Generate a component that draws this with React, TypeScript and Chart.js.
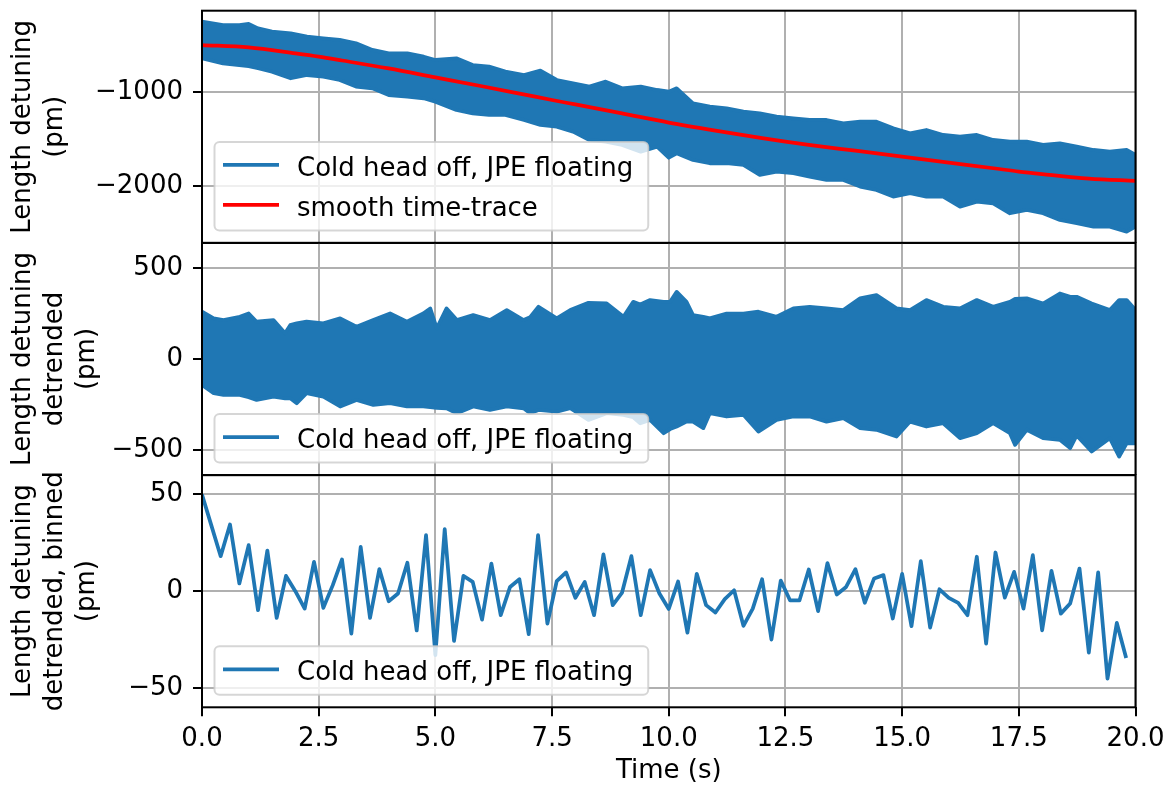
import React, { useEffect, useRef } from "react";
import { Chart, registerables } from "chart.js";

Chart.register(...registerables);

// ---------------- data ----------------
const X_TICKS = [0, 2.5, 5, 7.5, 10, 12.5, 15, 17.5, 20];
const Y1_TICKS = [-2000, -1000];
const Y2_TICKS = [-500, 0, 500];
const Y3_TICKS = [-50, 0, 50];

const SERIES_LABEL = "Cold head off, JPE floating";
const SMOOTH_LABEL = "smooth time-trace";

// panel 1: raw trace, read as upper / lower envelope of the noise band
const RAW_TIME = [0, 0.45, 0.8, 1.0, 1.2, 1.5, 1.9, 2.25, 2.6, 2.95, 3.3, 3.65, 4.0, 4.4, 4.75, 5.0, 5.45, 5.8, 6.15, 6.5, 6.9, 7.25, 7.6, 7.95, 8.3, 8.65, 9.0, 9.4, 9.75, 10.0, 10.17, 10.35, 10.52, 10.88, 11.24, 11.6, 11.95, 12.31, 12.67, 13.02, 13.38, 13.74, 14.1, 14.45, 14.81, 15.17, 15.52, 15.88, 16.24, 16.6, 16.95, 17.31, 17.67, 18.02, 18.38, 18.74, 19.1, 19.45, 19.81, 20.0];
const RAW_UPPER = [-244, -280, -280, -269, -316, -351, -369, -405, -422, -440, -476, -547, -583, -583, -619, -654, -636, -708, -725, -779, -815, -768, -868, -904, -939, -886, -957, -939, -975, -993, -957, -1040, -1118, -1153, -1171, -1207, -1225, -1260, -1278, -1296, -1296, -1332, -1314, -1314, -1385, -1438, -1403, -1456, -1474, -1456, -1510, -1528, -1528, -1563, -1545, -1581, -1617, -1635, -1617, -1670];
const RAW_LOWER = [-636, -690, -708, -720, -743, -779, -850, -815, -832, -868, -939, -957, -1029, -1046, -1064, -1100, -1189, -1225, -1242, -1242, -1296, -1349, -1367, -1421, -1510, -1528, -1563, -1635, -1581, -1700, -1652, -1690, -1724, -1759, -1759, -1777, -1884, -1848, -1866, -1902, -1938, -1938, -2009, -2045, -2116, -2080, -2116, -2116, -2223, -2169, -2187, -2294, -2258, -2294, -2365, -2401, -2437, -2437, -2490, -2437];

const SMOOTH_TIME = [0, 1, 2, 2.5, 3, 4, 5, 6, 7, 7.5, 8, 9, 10, 11, 12, 12.5, 13, 14, 15, 16, 17, 17.5, 18, 19, 20];
const SMOOTH_VALUES = [-494, -520, -584, -619, -660, -745, -840, -935, -1033, -1082, -1130, -1226, -1324, -1410, -1490, -1528, -1562, -1625, -1688, -1752, -1815, -1848, -1875, -1923, -1948];

// panel 2: detrended trace, upper / lower envelope
const DETR_TIME = [0, 0.25, 0.46, 0.81, 1.0, 1.17, 1.53, 1.78, 1.89, 2.03, 2.24, 2.6, 2.96, 3.31, 3.67, 4.03, 4.39, 4.74, 4.89, 5.03, 5.24, 5.46, 5.81, 6.17, 6.53, 6.89, 7.03, 7.21, 7.6, 7.89, 8.28, 8.67, 9.03, 9.24, 9.39, 9.6, 9.89, 10.03, 10.17, 10.38, 10.52, 10.74, 10.88, 11.24, 11.6, 11.92, 12.31, 12.67, 13.02, 13.38, 13.74, 14.1, 14.45, 14.88, 15.17, 15.52, 15.88, 16.24, 16.6, 16.95, 17.31, 17.42, 17.67, 18.02, 18.38, 18.6, 18.74, 19.06, 19.45, 19.65, 19.81, 20.0];
const DETR_UPPER = [260, 223, 214, 232, 250, 205, 214, 141, 186, 196, 205, 196, 223, 177, 214, 250, 205, 250, 278, 168, 278, 214, 241, 214, 269, 214, 230, 287, 223, 269, 309, 305, 232, 314, 300, 324, 314, 314, 369, 314, 241, 232, 223, 250, 250, 260, 232, 278, 287, 278, 269, 333, 351, 278, 269, 324, 287, 278, 324, 287, 314, 330, 333, 305, 360, 342, 342, 305, 269, 324, 324, 269];
const DETR_LOWER = [-143, -188, -197, -197, -210, -225, -207, -216, -216, -243, -188, -207, -261, -225, -252, -243, -261, -261, -265, -268, -271, -298, -261, -280, -261, -271, -298, -280, -289, -270, -335, -298, -307, -320, -353, -335, -408, -385, -371, -344, -344, -380, -298, -316, -307, -399, -335, -316, -316, -344, -325, -380, -389, -426, -344, -371, -353, -435, -408, -353, -408, -472, -389, -435, -444, -490, -420, -508, -435, -536, -463, -463];

// panel 3: detrended, binned (0.2 s bins)
const BIN_TIME = [
  0.0, 0.2, 0.4, 0.6, 0.8, 1.0, 1.2, 1.4, 1.6, 1.8,
  2.0, 2.2, 2.4, 2.6, 2.8, 3.0, 3.2, 3.4, 3.6, 3.8,
  4.0, 4.2, 4.4, 4.6, 4.8, 5.0, 5.2, 5.4, 5.6, 5.8,
  6.0, 6.2, 6.4, 6.6, 6.8, 7.0, 7.2, 7.4, 7.6, 7.8,
  8.0, 8.2, 8.4, 8.6, 8.8, 9.0, 9.2, 9.4, 9.6, 9.8,
  10.0, 10.2, 10.4, 10.6, 10.8, 11.0, 11.2, 11.4, 11.6, 11.8,
  12.0, 12.2, 12.4, 12.6, 12.8, 13.0, 13.2, 13.4, 13.6, 13.8,
  14.0, 14.2, 14.4, 14.6, 14.8, 15.0, 15.2, 15.4, 15.6, 15.8,
  16.0, 16.2, 16.4, 16.6, 16.8, 17.0, 17.2, 17.4, 17.6, 17.8,
  18.0, 18.2, 18.4, 18.6, 18.8, 19.0, 19.2, 19.4, 19.6, 19.8,
];
const BIN_VALUES = [
  50, 34, 18.1, 34.5, 4.0, 23.8, -9.8, 21.0, -13.8, 7.9,
  0, -9.0, 15.2, -8.6, 3, 16.4, -21.9, 22.9, -13.8, 11.4,
  -5.2, -1.2, 14.7, -20.3, 29.0, -33, 32.1, -25.7, 7.9, 4.8,
  -14.7, 14.3, -12.4, 2.2, 6.2, -22.2, 29.0, -16.7, 5.2, 9.7,
  -3.4, 4.8, -12.4, 19.0, -7.2, -0.7, 18.1, -12.4, 10.9, -1.2,
  -9.2, 5.0, -21.4, 9.0, -7.2, -11.0, -4.1, 0.5, -17.9, -9.0,
  6.2, -25.0, 5.5, -4.8, -4.8, 11.2, -10.3, 14.5, -1.7, 2.2,
  11.4, -6.0, 6.6, 8.3, -14.1, 9.0, -18.1, 15.5, -18.8, 1.0,
  -3.4, -6.0, -12.4, 17.8, -27.1, 20.0, -3.3, 10.0, -9.0, 18.6,
  -20.2, 10.5, -11.6, -6.4, 11.7, -31.7, 9.7, -45.2, -16.4, -34.5,
];

// ---------------- styling / geometry ----------------
const W = 1171;
const H = 787;
const PLOT_LEFT = 202;
const PLOT_RIGHT = 1135.5;
const PANELS: [number, number][] = [
  [10.7, 242.9],
  [242.9, 475.1],
  [475.1, 707.3],
];
const FONT = "'DejaVu Sans', 'Noto Sans', sans-serif";
const FS = 26;
const BLUE = "#1f77b4";
const RED = "#ff0000";
const GRID = "#b0b0b0";
const LW = 3.75;

const pts = (xs: number[], ys: number[]) => xs.map((x, i) => ({ x, y: ys[i] }));
const fmtY = (v: number) => String(Math.round(v)).replace("-", "\u2212");

type LegendItem = { label: string; color: string };

function legendPlugin(items: LegendItem[]) {
  return {
    id: "mplLegend",
    afterDraw(chart: any) {
      const { ctx, chartArea: a } = chart;
      ctx.save();
      ctx.font = `${FS}px ${FONT}`;
      let tw = 0;
      items.forEach((it) => (tw = Math.max(tw, ctx.measureText(it.label).width)));
      const left = a.left + 12.5;
      const bottom = a.bottom - 12.5;
      const h = 48.5 + (items.length - 1) * 40;
      const top = bottom - h;
      const w = 82.5 + tw + 15;
      const r = 5;
      ctx.beginPath();
      ctx.moveTo(left + r, top);
      ctx.lineTo(left + w - r, top);
      ctx.arcTo(left + w, top, left + w, top + r, r);
      ctx.lineTo(left + w, bottom - r);
      ctx.arcTo(left + w, bottom, left + w - r, bottom, r);
      ctx.lineTo(left + r, bottom);
      ctx.arcTo(left, bottom, left, bottom - r, r);
      ctx.lineTo(left, top + r);
      ctx.arcTo(left, top, left + r, top, r);
      ctx.closePath();
      ctx.fillStyle = "rgba(255,255,255,0.8)";
      ctx.fill();
      ctx.strokeStyle = "rgba(204,204,204,0.8)";
      ctx.lineWidth = 2;
      ctx.stroke();
      items.forEach((it, i) => {
        const y = top + 23 + i * 40;
        ctx.beginPath();
        ctx.moveTo(left + 8.5, y);
        ctx.lineTo(left + 64.5, y);
        ctx.strokeStyle = it.color;
        ctx.lineWidth = LW;
        ctx.lineCap = "butt";
        ctx.stroke();
        ctx.fillStyle = "#000";
        ctx.textBaseline = "alphabetic";
        ctx.textAlign = "left";
        ctx.fillText(it.label, left + 82.5, y + 11);
      });
      ctx.restore();
    },
  };
}

const framePlugin = {
  id: "mplFrame",
  afterDatasetsDraw(chart: any) {
    const { ctx, chartArea: a } = chart;
    ctx.save();
    ctx.strokeStyle = "#000";
    ctx.lineWidth = 2;
    ctx.strokeRect(a.left, a.top, a.right - a.left, a.bottom - a.top);
    ctx.restore();
  },
};

function makeConfig(
  panel: number,
  datasets: any[],
  yMin: number,
  yMax: number,
  yTicks: number[],
  yTitle: string[],
  legend: LegendItem[],
  showX: boolean
): any {
  const [top, bottom] = PANELS[panel];
  const font = { family: FONT, size: FS };
  return {
    type: "line",
    data: { datasets },
    options: {
      animation: false,
      responsive: false,
      devicePixelRatio: 1,
      events: [],
      layout: {
        padding: {
          left: 0,
          right: W - PLOT_RIGHT,
          top,
          bottom: showX ? 0 : H - bottom,
        },
      },
      elements: { point: { radius: 0 }, line: { tension: 0 } },
      plugins: { legend: { display: false }, tooltip: { enabled: false } },
      scales: {
        x: {
          type: "linear",
          min: 0,
          max: 20,
          afterBuildTicks: (s: any) => {
            s.ticks = X_TICKS.map((v) => ({ value: v }));
          },
          afterFit: (s: any) => {
            s.height = showX ? H - PANELS[2][1] : 0;
            s.paddingLeft = 0;
            s.paddingRight = 0;
          },
          ticks: {
            display: showX,
            autoSkip: false,
            maxRotation: 0,
            color: "#000",
            font,
            padding: 7,
            callback: (v: any) => Number(v).toFixed(1),
          },
          grid: {
            color: GRID,
            lineWidth: 2,
            drawTicks: true,
            tickColor: "#000",
            tickLength: 9,
            tickWidth: 2,
          },
          border: { display: false },
          title: {
            display: showX,
            text: "Time (s)",
            color: "#000",
            font: { family: FONT, size: FS, lineHeight: 1.2 },
            padding: 0,
          },
        },
        y: {
          type: "linear",
          min: yMin,
          max: yMax,
          afterBuildTicks: (s: any) => {
            s.ticks = yTicks.map((v) => ({ value: v }));
          },
          afterFit: (s: any) => {
            s.width = PLOT_LEFT;
            s.paddingTop = 0;
            s.paddingBottom = 0;
          },
          ticks: {
            color: "#000",
            font,
            padding: 10,
            callback: (v: any) => fmtY(Number(v)),
          },
          grid: {
            color: GRID,
            lineWidth: 2,
            drawTicks: true,
            tickColor: "#000",
            tickLength: 9,
            tickWidth: 2,
          },
          border: { display: false },
          title: {
            display: true,
            text: yTitle,
            color: "#000",
            font: { family: FONT, size: FS, lineHeight: 1.23 },
            padding: { top: 7, bottom: 0 },
          },
        },
      },
    },
    plugins: [framePlugin, legendPlugin(legend)],
  };
}

const lineDs = (data: any[], color: string, extra: any = {}) => ({
  data,
  borderColor: color,
  backgroundColor: color,
  borderWidth: LW,
  borderJoinStyle: "round",
  pointRadius: 0,
  fill: false,
  ...extra,
});

export default function App() {
  const r1 = useRef<HTMLCanvasElement>(null);
  const r2 = useRef<HTMLCanvasElement>(null);
  const r3 = useRef<HTMLCanvasElement>(null);

  useEffect(() => {
    const c1 = new Chart(
      r1.current as HTMLCanvasElement,
      makeConfig(
        0,
        [
          lineDs(pts(SMOOTH_TIME, SMOOTH_VALUES), RED, { cubicInterpolationMode: "monotone" }),
          lineDs(pts(RAW_TIME, RAW_UPPER), BLUE),
          lineDs(pts(RAW_TIME, RAW_LOWER), BLUE, { fill: "-1" }),
        ],
        -2611,
        -127,
        Y1_TICKS,
        ["Length detuning", "(pm)"],
        [
          { label: SERIES_LABEL, color: BLUE },
          { label: SMOOTH_LABEL, color: RED },
        ],
        false
      )
    );
    const c2 = new Chart(
      r2.current as HTMLCanvasElement,
      makeConfig(
        1,
        [
          lineDs(pts(DETR_TIME, DETR_UPPER), BLUE),
          lineDs(pts(DETR_TIME, DETR_LOWER), BLUE, { fill: "-1" }),
        ],
        -638,
        638,
        Y2_TICKS,
        ["Length detuning", "detrended", "(pm)"],
        [{ label: SERIES_LABEL, color: BLUE }],
        false
      )
    );
    const c3 = new Chart(
      r3.current as HTMLCanvasElement,
      makeConfig(
        2,
        [lineDs(pts(BIN_TIME, BIN_VALUES), BLUE)],
        -60,
        60,
        Y3_TICKS,
        ["Length detuning", "detrended, binned", "(pm)"],
        [{ label: SERIES_LABEL, color: BLUE }],
        true
      )
    );
    return () => {
      c1.destroy();
      c2.destroy();
      c3.destroy();
    };
  }, []);

  const cs: React.CSSProperties = {
    position: "absolute",
    left: 0,
    top: 0,
    width: W,
    height: H,
  };
  return (
    <div style={{ position: "absolute", left: 0, top: 0, width: W, height: H, background: "#fff", overflow: "hidden" }}>
      <canvas ref={r1} width={W} height={H} style={cs} />
      <canvas ref={r2} width={W} height={H} style={cs} />
      <canvas ref={r3} width={W} height={H} style={cs} />
    </div>
  );
}
